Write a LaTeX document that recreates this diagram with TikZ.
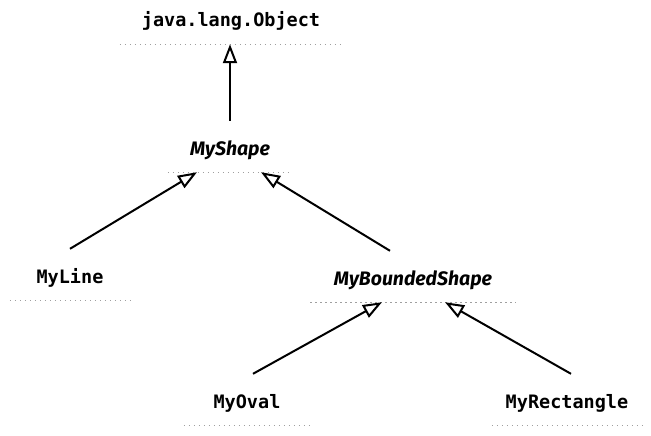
\documentclass[tikz,border=0pt]{standalone}
\usepackage{fontspec}
\newfontfamily\classmono{DejaVu Sans Mono}
\newfontfamily\classital{Fira Sans}
\usetikzlibrary{arrows.meta,calc}
\tikzset{
  cls/.style={anchor=base, inner xsep=0pt, inner ysep=6pt, text height=28pt, text depth=11pt, text=black},
  concrete/.style={cls, font=\classmono\bfseries\fontsize{18.5}{20}\selectfont},
  abstract/.style={cls, font=\classital\bfseries\itshape\fontsize{19.5}{22}\selectfont},
  sepline/.style={gray!75, line width=1.3pt, dash pattern=on 1.5pt off 3.5pt},
  inh/.style={-{Triangle[open,length=19pt,width=14pt]}, line width=2pt, black},
}
\begin{document}
\begin{tikzpicture}[x=1pt,y=-1pt]
\useasboundingbox (0,0) rectangle (651,436);
\node[concrete, minimum width=222pt] (obj) at (231,27) {java.lang.Object};
\node[abstract, minimum width=124pt] (myshape) at (230,155) {MyShape};
\node[concrete, minimum width=120pt] (myline) at (70,283) {MyLine};
\node[abstract, minimum width=205pt] (bounded) at (413,285) {MyBoundedShape};
\node[concrete, minimum width=126pt] (oval) at (247,408) {MyOval};
\node[concrete, minimum width=150pt] (rect) at (567,408) {MyRectangle};
\foreach \n in {obj,myshape,myline,bounded,oval,rect}
  \draw[sepline] (\n.south west) -- (\n.south east);
\draw[inh] (myshape.north) -- (myshape.north |- obj.south);
\draw[inh] (myline.north) -- ($(myshape.south)+(-33,0)$);
\draw[inh] ($(bounded.north)+(-23,0)$) -- ($(myshape.south)+(31,0)$);
\draw[inh] ($(oval.north)+(6,0)$) -- ($(bounded.south)+(-31,0)$);
\draw[inh] ($(rect.north)+(4,0)$) -- ($(bounded.south)+(32,0)$);
\end{tikzpicture}
\end{document}
